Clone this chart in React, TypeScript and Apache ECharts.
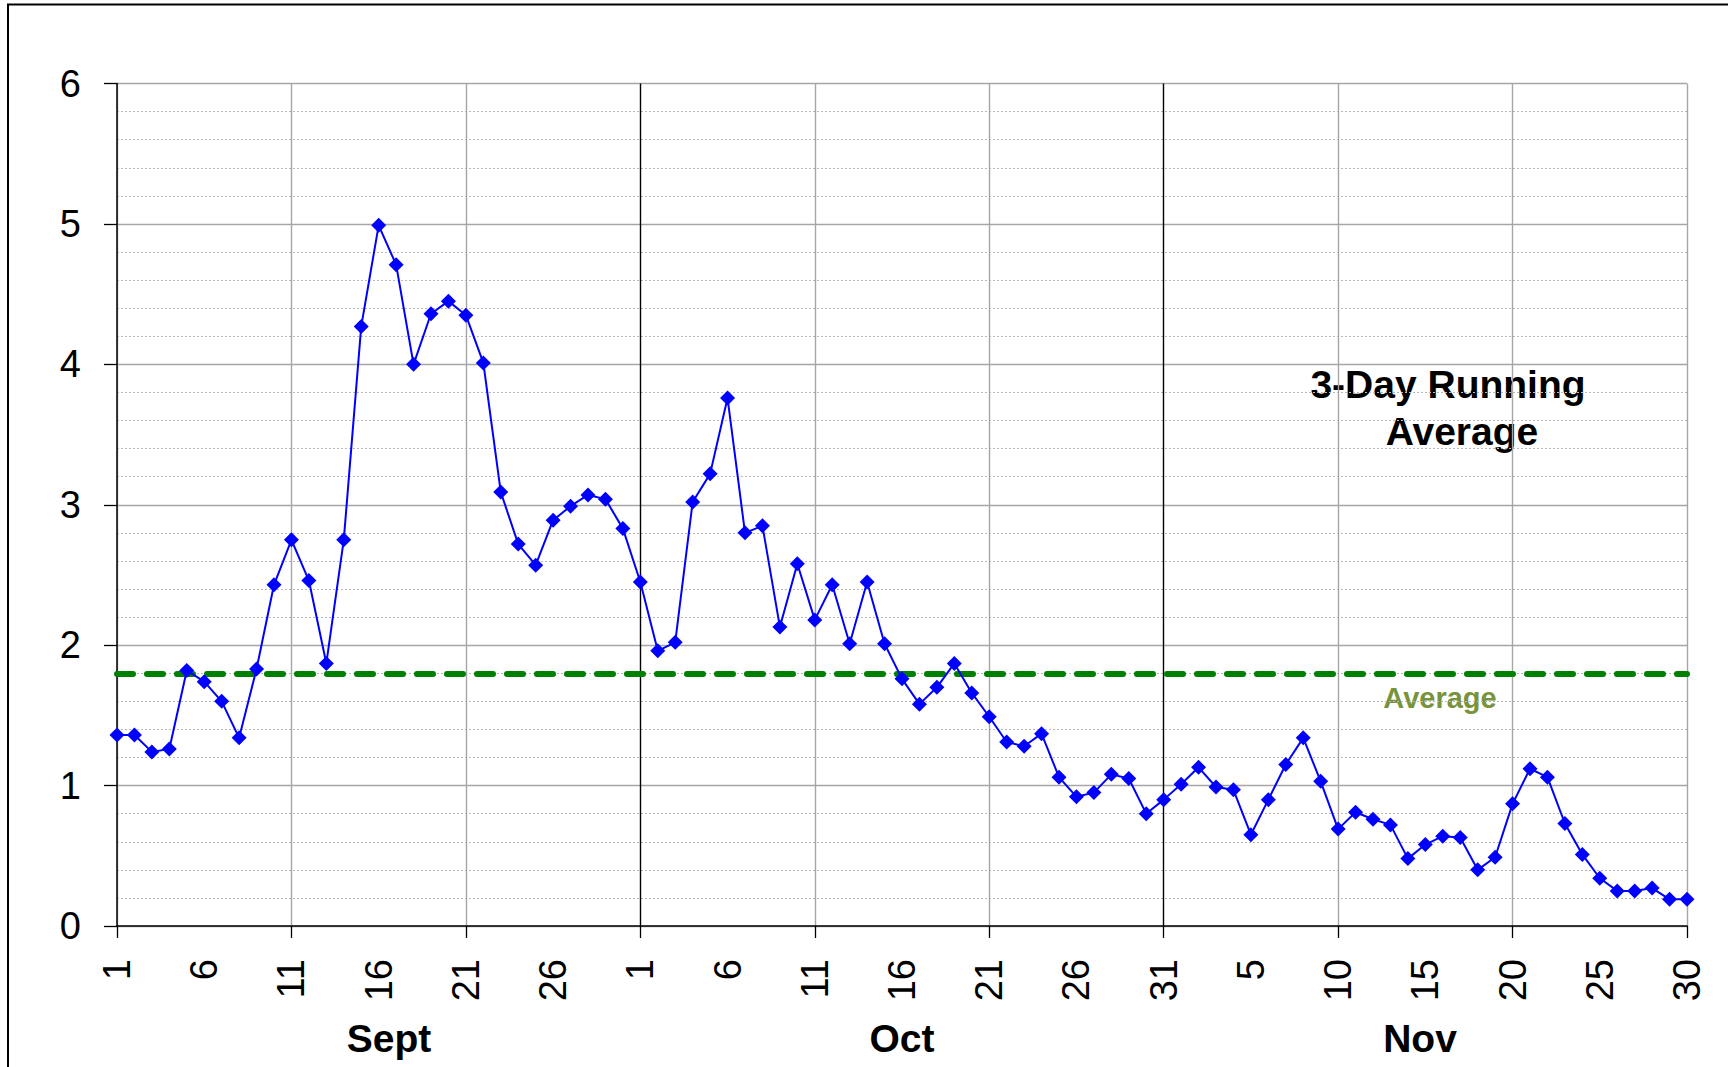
import React, { useEffect, useRef } from "react";
import * as echarts from "echarts";

const monthNames = ["Sept", "Oct", "Nov"];
const daysInMonth = [30, 31, 30];

const septValues = [
  1.36, 1.36, 1.24, 1.26, 1.82, 1.74, 1.6, 1.34, 1.83, 2.43,
  2.75, 2.46, 1.87, 2.75, 4.27, 4.99, 4.71, 4.0, 4.36, 4.45,
  4.35, 4.01, 3.09, 2.72, 2.57, 2.89, 2.99, 3.07, 3.04, 2.83,
];
const octValues = [
  2.45, 1.96, 2.02, 3.02, 3.22, 3.76, 2.8, 2.85, 2.13, 2.58,
  2.18, 2.43, 2.01, 2.45, 2.01, 1.76, 1.58, 1.7, 1.87, 1.66,
  1.49, 1.31, 1.28, 1.37, 1.06, 0.92, 0.95, 1.08, 1.05, 0.8,
  0.9,
];
const novValues = [
  1.01, 1.13, 0.99, 0.97, 0.65, 0.9, 1.15, 1.34, 1.03, 0.69,
  0.81, 0.76, 0.72, 0.48, 0.58, 0.64, 0.63, 0.4, 0.49, 0.87,
  1.12, 1.06, 0.73, 0.51, 0.34, 0.25, 0.25, 0.27, 0.19, 0.19,
];
const averageValue = 1.8;

const yTicks = [0, 1, 2, 3, 4, 5, 6];

const FONT = "'Liberation Sans', Arial, sans-serif";

export default function App() {
  const ref = useRef<HTMLDivElement>(null);

  useEffect(() => {
    document.body.style.margin = "0";
    document.body.style.overflow = "hidden";
    if (!ref.current) return;
    const chart = echarts.init(ref.current, null, { renderer: "svg" });

    const categories: string[] = [];
    monthNames.forEach((m, mi) => {
      for (let d = 1; d <= daysInMonth[mi]; d++) categories.push(`${m}-${d}`);
    });
    const values = [...septValues, ...octValues, ...novValues];

    const grey = "#a6a6a6";
    const vColors = [grey, grey, grey, "#000000", grey, grey, "#000000", grey, grey, grey];

    chart.setOption({
      animation: false,
      backgroundColor: "#ffffff",
      grid: { left: 117, right: 41, top: 83.5, bottom: 141, containLabel: false },
      xAxis: {
        type: "category",
        data: categories,
        boundaryGap: false,
        axisLine: { show: true, lineStyle: { color: "#000", width: 1.5 } },
        axisTick: {
          show: true,
          interval: (i: number) => i % 10 === 0,
          length: 12,
          lineStyle: { color: "#000", width: 1.3 },
        },
        axisLabel: {
          show: true,
          interval: (i: number) => i % 5 === 0,
          rotate: 90,
          margin: 33,
          fontSize: 38,
          fontFamily: FONT,
          color: "#000",
          formatter: (v: string) => v.split("-")[1],
        },
        splitLine: {
          show: true,
          interval: (i: number) => i % 10 === 0,
          lineStyle: { color: vColors, width: 1.4 },
        },
      },
      yAxis: {
        type: "value",
        min: yTicks[0],
        max: yTicks[yTicks.length - 1],
        interval: 1,
        axisLine: { show: true, lineStyle: { color: "#000", width: 1.5 } },
        axisTick: { show: true, length: 13, lineStyle: { color: "#000", width: 1.3 } },
        axisLabel: { margin: 36, fontSize: 38, fontFamily: FONT, color: "#000" },
        splitLine: { show: true, lineStyle: { color: grey, width: 1.4 } },
        minorTick: { show: false, splitNumber: 5 },
        minorSplitLine: { show: true, lineStyle: { color: "#b8b8b8", width: 1, type: [2, 2] } },
      },
      series: [
        {
          type: "line",
          data: values,
          symbol: "diamond",
          symbolSize: 15,
          showAllSymbol: true,
          lineStyle: { color: "#0000ff", width: 2 },
          itemStyle: { color: "#0000ff" },
          z: 5,
          markLine: {
            silent: true,
            symbol: "none",
            label: { show: false },
            lineStyle: { color: "#008000", width: 6, type: [16, 14], cap: "round" },
            data: [{ yAxis: averageValue }],
            z: 4,
          },
        },
      ],
      graphic: [
        {
          type: "rect",
          shape: { x: 8, y: 4.5, width: 1800, height: 1200 },
          style: { fill: "none", stroke: "#000", lineWidth: 2 },
          silent: true,
        },
        {
          type: "text",
          x: 1448,
          y: 384,
          style: { text: "3-Day Running", fontSize: 39, fontWeight: "bold", fontFamily: FONT, fill: "#000", align: "center", verticalAlign: "middle" },
        },
        {
          type: "text",
          x: 1462,
          y: 431,
          style: { text: "Average", fontSize: 39, fontWeight: "bold", fontFamily: FONT, fill: "#000", align: "center", verticalAlign: "middle" },
        },
        {
          type: "text",
          x: 1440,
          y: 698,
          style: { text: "Average", fontSize: 29, fontWeight: "bold", fontFamily: FONT, fill: "#77933c", align: "center", verticalAlign: "middle" },
        },
        {
          type: "text",
          x: 389,
          y: 1038,
          style: { text: monthNames[0], fontSize: 39, fontWeight: "bold", fontFamily: FONT, fill: "#000", align: "center", verticalAlign: "middle" },
        },
        {
          type: "text",
          x: 902,
          y: 1038,
          style: { text: monthNames[1], fontSize: 39, fontWeight: "bold", fontFamily: FONT, fill: "#000", align: "center", verticalAlign: "middle" },
        },
        {
          type: "text",
          x: 1420,
          y: 1038,
          style: { text: monthNames[2], fontSize: 39, fontWeight: "bold", fontFamily: FONT, fill: "#000", align: "center", verticalAlign: "middle" },
        },
      ],
    });

    return () => chart.dispose();
  }, []);

  return <div ref={ref} style={{ width: 1728, height: 1067 }} />;
}
